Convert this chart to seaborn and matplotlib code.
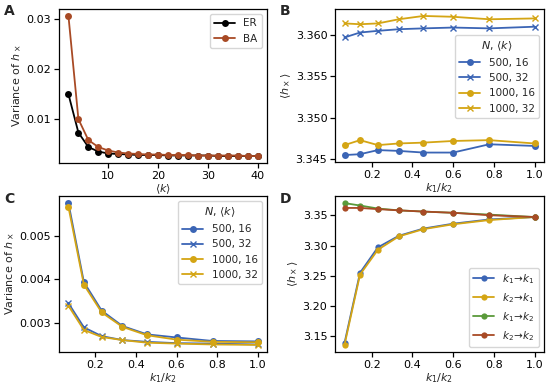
import numpy as np
import pandas as pd
import matplotlib
matplotlib.use("Agg")
import matplotlib.pyplot as plt
import seaborn as sns

sns.set_theme(style="ticks")
plt.rcParams.update({'font.family': 'DejaVu Sans', 'font.size': 8,
                     'axes.labelsize': 8, 'xtick.labelsize': 8, 'ytick.labelsize': 8,
                     'legend.fontsize': 7.5, 'legend.title_fontsize': 8,
                     'axes.edgecolor': 'black', 'axes.linewidth': 0.9,
                     'xtick.color': 'black', 'ytick.color': 'black'})

# panel A: variance vs mean degree
mean_k = [2, 4, 6, 8, 10, 12, 14, 16, 18, 20, 22, 24, 26, 28, 30, 32, 34, 36, 38, 40]
var_er = [0.0149, 0.0072, 0.0043, 0.0034, 0.0030, 0.0029, 0.0028, 0.0027, 0.0027, 0.0027,
          0.0026, 0.0026, 0.0026, 0.0026, 0.0026, 0.0025, 0.0025, 0.0025, 0.0025, 0.0025]
var_ba = [0.0306, 0.0099, 0.0057, 0.0043, 0.0036, 0.0032, 0.0030, 0.0029, 0.0028, 0.0028,
          0.0027, 0.0027, 0.0027, 0.0026, 0.0026, 0.0026, 0.0026, 0.0026, 0.0025, 0.0025]

# panels B-D: ratio k1/k2
ratio = [2/30, 4/28, 6/26, 8/24, 10/22, 12/20, 14/18, 16/16]

mean_500_16 = [3.3455, 3.3456, 3.3461, 3.3460, 3.3458, 3.3458, 3.3468, 3.3466]
mean_500_32 = [3.3597, 3.3603, 3.3605, 3.3607, 3.3608, 3.3609, 3.3608, 3.3610]
mean_1000_16 = [3.3467, 3.3473, 3.3467, 3.3469, 3.3470, 3.3472, 3.3473, 3.3469]
mean_1000_32 = [3.3614, 3.3613, 3.3614, 3.3619, 3.3623, 3.3622, 3.3619, 3.3620]

var_500_16 = [0.00574, 0.00394, 0.00329, 0.00294, 0.00275, 0.00268, 0.00260, 0.00259]
var_500_32 = [0.00346, 0.00291, 0.00271, 0.00262, 0.00258, 0.00255, 0.00254, 0.00252]
var_1000_16 = [0.00565, 0.00388, 0.00325, 0.00292, 0.00273, 0.00263, 0.00258, 0.00257]
var_1000_32 = [0.00340, 0.00285, 0.00269, 0.00262, 0.00256, 0.00254, 0.00252, 0.00251]

d_k1k1 = [3.139, 3.255, 3.297, 3.316, 3.328, 3.336, 3.343, 3.347]
d_k2k1 = [3.136, 3.252, 3.293, 3.315, 3.327, 3.335, 3.342, 3.347]
d_k1k2 = [3.370, 3.366, 3.361, 3.358, 3.356, 3.354, 3.351, 3.347]
d_k2k2 = [3.362, 3.362, 3.360, 3.358, 3.356, 3.354, 3.350, 3.347]

blue = '#3b65b5'
gold = '#d4a514'
green = '#5a9a3a'
brown = '#a84a25'

fig = plt.figure(figsize=(5.5, 3.91), dpi=100)
W, H = 550, 391
def add_ax(x0, x1, y0, y1):
    return fig.add_axes([x0 / W, 1 - y1 / H, (x1 - x0) / W, (y1 - y0) / H])

axA = add_ax(59, 267, 9, 163)
axB = add_ax(335, 544, 9, 162)
axC = add_ax(59, 267, 196, 352)
axD = add_ax(335, 544, 196, 352)

# A
sns.lineplot(x=mean_k, y=var_er, marker='o', color='black', markersize=5,
             markeredgewidth=0, linewidth=1.3, label='ER', ax=axA)
sns.lineplot(x=mean_k, y=var_ba, marker='o', color=brown, markersize=5,
             markeredgewidth=0, linewidth=1.3, label='BA', ax=axA)
axA.set_xlabel(r'$\langle k \rangle$', labelpad=1)
axA.set_ylabel(r'Variance of $h_\times$', labelpad=2)
axA.set_xticks([10, 20, 30, 40])
axA.set_yticks([0.01, 0.02, 0.03])
axA.legend(loc='upper right')

# B
for vals, col, mk, lab in [(mean_500_16, blue, 'o', '500, 16'), (mean_500_32, blue, 'x', '500, 32'),
                           (mean_1000_16, gold, 'o', '1000, 16'), (mean_1000_32, gold, 'x', '1000, 32')]:
    sns.lineplot(x=ratio, y=vals, marker=mk, color=col, markersize=5,
                 markeredgewidth=1.0 if mk == 'x' else 0, markeredgecolor=col,
                 linewidth=1.3, label=lab, ax=axB)
axB.set_xlabel(r'$k_1/k_2$', labelpad=1)
axB.set_ylabel(r'$\langle h_\times \rangle$', labelpad=2)
axB.set_xticks([0.2, 0.4, 0.6, 0.8, 1.0])
axB.set_yticks([3.345, 3.350, 3.355, 3.360])
axB.legend(title=r'$N$, $\langle k \rangle$', loc='center right', bbox_to_anchor=(1.0, 0.56))

# C
for vals, col, mk, lab in [(var_500_16, blue, 'o', '500, 16'), (var_500_32, blue, 'x', '500, 32'),
                           (var_1000_16, gold, 'o', '1000, 16'), (var_1000_32, gold, 'x', '1000, 32')]:
    sns.lineplot(x=ratio, y=vals, marker=mk, color=col, markersize=5,
                 markeredgewidth=1.0 if mk == 'x' else 0, markeredgecolor=col,
                 linewidth=1.3, label=lab, ax=axC)
axC.set_xlabel(r'$k_1/k_2$', labelpad=1)
axC.set_ylabel(r'Variance of $h_\times$', labelpad=2)
axC.set_xticks([0.2, 0.4, 0.6, 0.8, 1.0])
axC.set_yticks([0.003, 0.004, 0.005])
axC.legend(title=r'$N$, $\langle k \rangle$', loc='upper right')

# D
for vals, col, lab in [(d_k1k1, blue, r'$k_1\!\rightarrow\!k_1$'), (d_k2k1, gold, r'$k_2\!\rightarrow\!k_1$'),
                       (d_k1k2, green, r'$k_1\!\rightarrow\!k_2$'), (d_k2k2, brown, r'$k_2\!\rightarrow\!k_2$')]:
    sns.lineplot(x=ratio, y=vals, marker='o', color=col, markersize=4.5,
                 markeredgewidth=0, linewidth=1.3, label=lab, ax=axD)
axD.set_xlabel(r'$k_1/k_2$', labelpad=1)
axD.set_ylabel(r'$\langle h_\times \rangle$', labelpad=2)
axD.set_xticks([0.2, 0.4, 0.6, 0.8, 1.0])
axD.set_yticks([3.15, 3.20, 3.25, 3.30, 3.35])
axD.legend(loc='lower right')

for ax in [axA, axB, axC, axD]:
    ax.tick_params(length=3.5, width=0.9, pad=2)
    for s in ax.spines.values():
        s.set_visible(True)

for lab, x, y in [('A', 4, 4), ('B', 280, 4), ('C', 4, 192), ('D', 280, 192)]:
    fig.text(x / W, 1 - y / H, lab, fontsize=10, fontweight='bold', va='top', ha='left')

fig.savefig('out.png', dpi=100)
